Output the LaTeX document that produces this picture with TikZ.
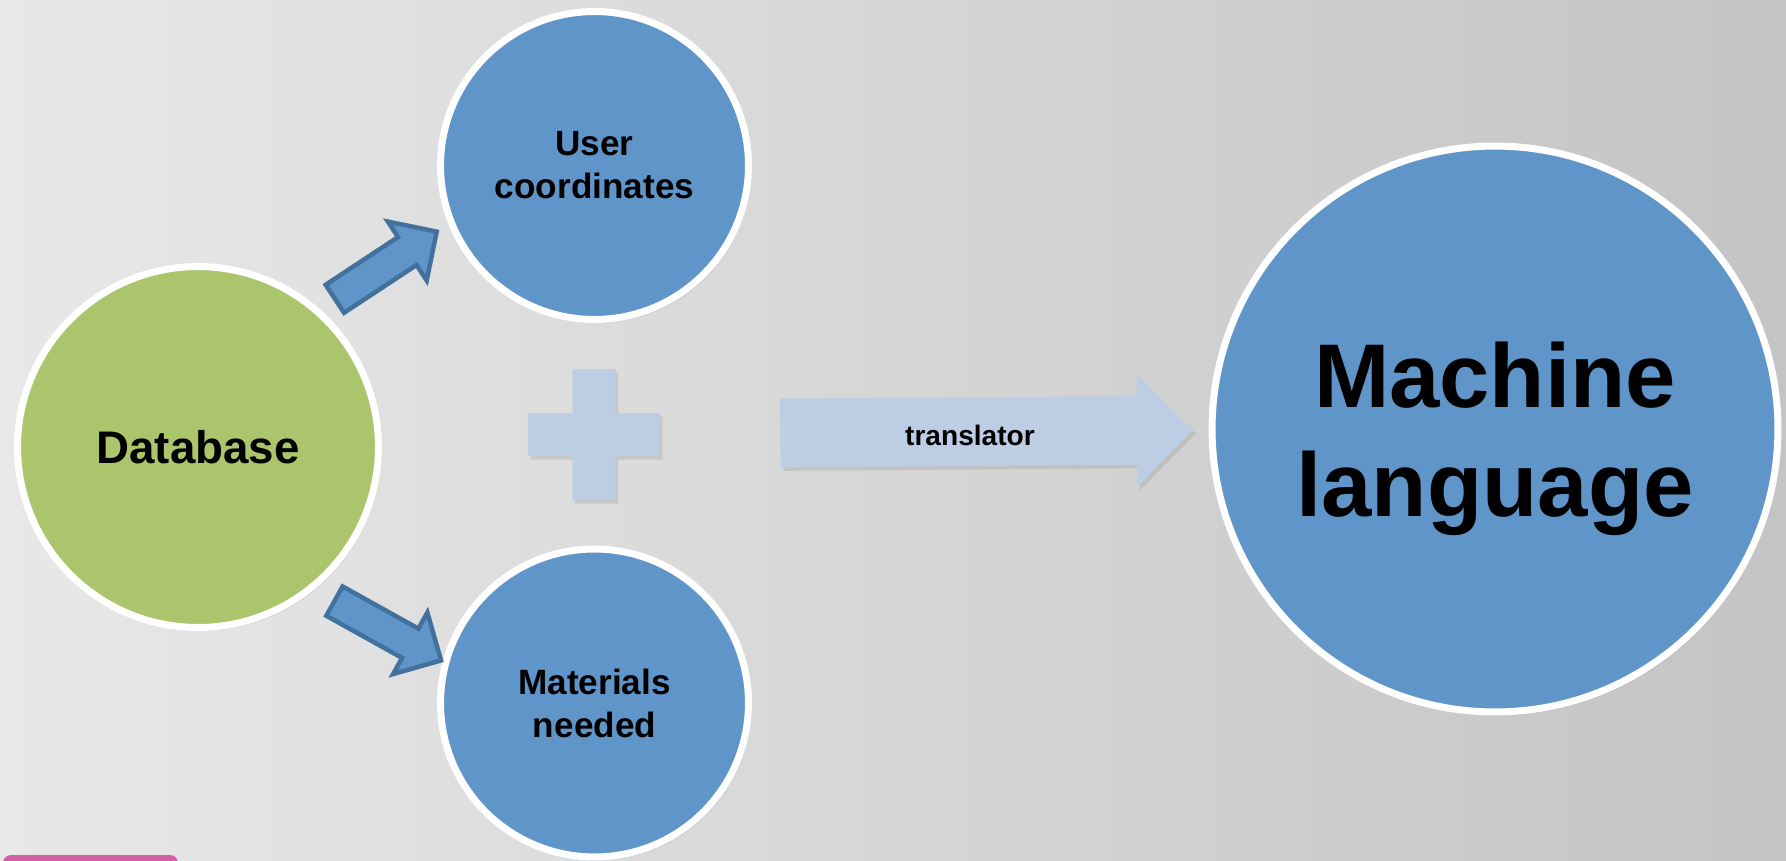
\documentclass[tikz,border=0pt]{standalone}
\usepackage{fontspec}
\setmainfont{Liberation Sans}
\usetikzlibrary{shapes.arrows,shadows}

\definecolor{fondoIzq}{RGB}{232,232,232}
\definecolor{fondoDer}{RGB}{196,196,196}
\definecolor{azulCirc}{RGB}{96,149,201}
\definecolor{verdeCirc}{RGB}{171,197,109}
\definecolor{bordeFlecha}{RGB}{65,113,156}
\definecolor{azulClaro}{RGB}{188,205,228}
\definecolor{rosa}{RGB}{210,96,166}

\tikzset{
  sombra/.style={drop shadow={shadow xshift=0.05cm, shadow yshift=-0.07cm, opacity=0.22}},
  circulo/.style={circle, draw=white, line width=0.14cm, fill=azulCirc,
    align=center, inner sep=0pt, sombra},
  flechita/.style={single arrow, draw=bordeFlecha, line width=0.09cm, fill=azulCirc,
    inner xsep=0pt, inner ysep=0.29cm, minimum height=2.44cm,
    single arrow head extend=0.37cm, anchor=tail},
  flechota/.style={single arrow, fill=azulClaro, inner xsep=0pt, inner ysep=0.68cm,
    minimum height=8.26cm, single arrow head extend=0.44cm,
    anchor=tail, sombra}
}

\begin{document}
\begin{tikzpicture}[x=0.02cm, y=-0.02cm]
        % Paso 1: Fondo degradado y marco de la imagen
        \useasboundingbox (0,0) rectangle (1786,860);
        \fill[left color=fondoIzq, right color=fondoDer] (0,0) rectangle (1786,860);
        \fill[rosa, rounded corners=0.16cm] (3,855) rectangle (178,900);

        % Paso 2: Circulos (base de datos y sus salidas)
        \node[circulo, fill=verdeCirc, minimum size=7.22cm,
            font=\fontsize{26pt}{31pt}\selectfont\bfseries] (db) at (198,447) {Database};
        \node[circulo, minimum size=6.16cm,
            font=\fontsize{20pt}{24.5pt}\selectfont\bfseries] (user) at (594.5,165.5) {User\\coordinates};
        \node[circulo, minimum size=6.16cm,
            font=\fontsize{20pt}{24.5pt}\selectfont\bfseries] (mat) at (594.5,703) {Materials\\needed};

        % Paso 3: Circulo grande del lenguaje de maquina
        \node[circulo, minimum size=11.32cm, text depth=0pt,
            font=\fontsize{51.5pt}{62pt}\selectfont\bfseries] (ml) at (1495,429) {Machine\\language};

        % Paso 4: Flechas azules desde la base de datos
        \coordinate (colaArriba) at (333,300);
        \coordinate (colaAbajo) at (332.5,600);
        \node[flechita, rotate=33.4] (arrUp) at (colaArriba) {};
        \node[flechita, rotate=-29.1] (arrDown) at (colaAbajo) {};

        % Paso 5: Signo mas
        \coordinate (mas) at (594,434.5);
        \fill[azulClaro, sombra] (mas) ++(-21.5,-65.5) -- ++(43,0) -- ++(0,44) -- ++(44.5,0)
            -- ++(0,43) -- ++(-44.5,0) -- ++(0,44) -- ++(-43,0) -- ++(0,-44)
            -- ++(-44.5,0) -- ++(0,-43) -- ++(44.5,0) -- cycle;

        % Paso 6: Flecha del traductor hacia el lenguaje de maquina
        \coordinate (colaTrad) at (780,433);
        \node[flechota, rotate=0.4] (transl) at (colaTrad) {};
        \node[font=\fontsize{16pt}{19pt}\selectfont\bfseries] (translbl) at (970,435) {translator};
\end{tikzpicture}
\end{document}
